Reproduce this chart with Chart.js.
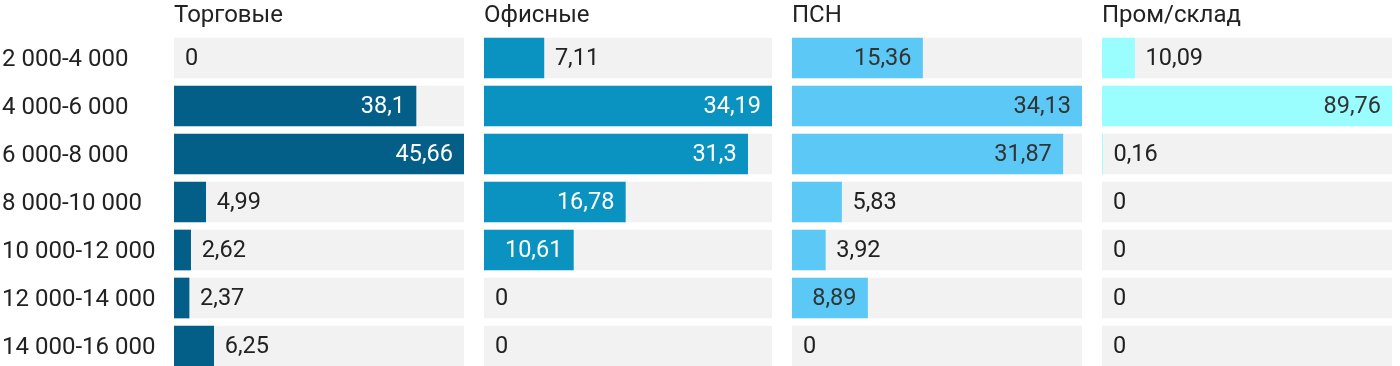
<!DOCTYPE html>
<html>
<head>
<meta charset="utf-8">
<script src="https://cdn.jsdelivr.net/npm/chart.js@4.4.1/dist/chart.umd.min.js"></script>
<style>
  html, body { margin: 0; padding: 0; background: #ffffff; }
  #wrap { position: relative; width: 1400px; height: 366px; overflow: hidden; }
  #wrap canvas { position: absolute; left: 0; top: 0; }
</style>
</head>
<body>
<div id="wrap">
  <canvas id="c0" width="1400" height="370"></canvas>
  <canvas id="c1" width="1400" height="370"></canvas>
  <canvas id="c2" width="1400" height="370"></canvas>
  <canvas id="c3" width="1400" height="370"></canvas>
</div>
<script>
// ---- data ----
const categories = ['2 000-4 000', '4 000-6 000', '6 000-8 000', '8 000-10 000', '10 000-12 000', '12 000-14 000', '14 000-16 000'];
const panelTitles = ['Торговые', 'Офисные', 'ПСН', 'Пром/склад'];
const torgovye = [0, 38.1, 45.66, 4.99, 2.62, 2.37, 6.25];
const ofisnye = [7.11, 34.19, 31.3, 16.78, 10.61, 0, 0];
const psn = [15.36, 34.13, 31.87, 5.83, 3.92, 8.89, 0];
const promSklad = [10.09, 89.76, 0.16, 0, 0, 0, 0];

// ---- styling ----
const seriesList = [torgovye, ofisnye, psn, promSklad];
const barColors = ['#035f87', '#0a93c1', '#5bc8f5', '#9afdff'];
const insideTextColors = ['#ffffff', '#ffffff', '#333333', '#333333'];
const trackColor = '#f2f2f2';
const textColor = '#222222';
const LABEL_SIZE = 24;
const VALUE_SIZE = 23.5;
const panelLeft = [174, 484, 792, 1102];
const panelWidth = [290, 288, 290, 290];
const CANVAS_W = 1400;

const labelPlugin = {
  id: 'valueLabels',
  afterDatasetsDraw(chart, args, opts) {
    const ctx = chart.ctx;
    const meta = chart.getDatasetMeta(0);
    const data = chart.data.datasets[0].data;
    ctx.save();
    ctx.font = VALUE_SIZE + 'px Roboto';
    ctx.textBaseline = 'middle';
    const pad = 11;
    meta.data.forEach((bar, i) => {
      const v = data[i];
      const txt = String(v).replace('.', ',');
      const w = ctx.measureText(txt).width;
      const barW = bar.x - bar.base;
      if (barW >= w + 2 * pad) {
        ctx.fillStyle = opts.insideColor;
        ctx.textAlign = 'right';
        ctx.fillText(txt, bar.x - pad, bar.y + 1);
      } else {
        ctx.fillStyle = textColor;
        ctx.textAlign = 'left';
        ctx.fillText(txt, bar.x + pad, bar.y + 1);
      }
    });
    ctx.restore();
  }
};

function build() {
  Chart.defaults.font.family = 'Roboto';
  Chart.defaults.font.size = LABEL_SIZE;
  Chart.defaults.color = textColor;

  seriesList.forEach((values, p) => {
    const maxVal = Math.max(...values);
    const isFirst = p === 0;
    const left = isFirst ? 2 : panelLeft[p];
    new Chart(document.getElementById('c' + p), {
      type: 'bar',
      data: {
        labels: categories,
        datasets: [
          {
            data: values,
            backgroundColor: values.map(v => v === 0 ? 'rgba(0,0,0,0)' : barColors[p]),
            barThickness: 40,
            grouped: false,
            order: 0
          },
          {
            data: categories.map(() => maxVal),
            backgroundColor: trackColor,
            barThickness: 40,
            grouped: false,
            order: 1
          }
        ]
      },
      options: {
        indexAxis: 'y',
        responsive: false,
        animation: false,
        devicePixelRatio: 1,
        layout: {
          padding: {
            left: left,
            right: CANVAS_W - panelLeft[p] - panelWidth[p],
            top: 0,
            bottom: 0
          }
        },
        scales: {
          x: { display: false, min: 0, max: maxVal },
          y: {
            display: isFirst,
            grid: { display: false },
            border: { display: false },
            ticks: {
              crossAlign: 'far',
              labelOffset: 1.5,
              color: textColor,
              font: { size: LABEL_SIZE, family: 'Roboto' }
            },
            afterFit(scale) {
              if (isFirst) scale.width = panelLeft[0] - 2;
              scale.paddingTop = 0;
              scale.paddingBottom = 0;
            }
          }
        },
        plugins: {
          legend: { display: false },
          tooltip: { enabled: false },
          title: {
            display: true,
            text: panelTitles[p],
            align: 'start',
            fullSize: false,
            color: textColor,
            font: { size: LABEL_SIZE, family: 'Roboto', weight: 'normal', lineHeight: 1.2 },
            padding: { top: 2, bottom: 3.2 }
          },
          valueLabels: { insideColor: insideTextColors[p] }
        }
      },
      plugins: [labelPlugin]
    });
  });
}

if (document.fonts && document.fonts.load) {
  document.fonts.load(LABEL_SIZE + 'px Roboto').then(build, build);
} else {
  build();
}
</script>
</body>
</html>
